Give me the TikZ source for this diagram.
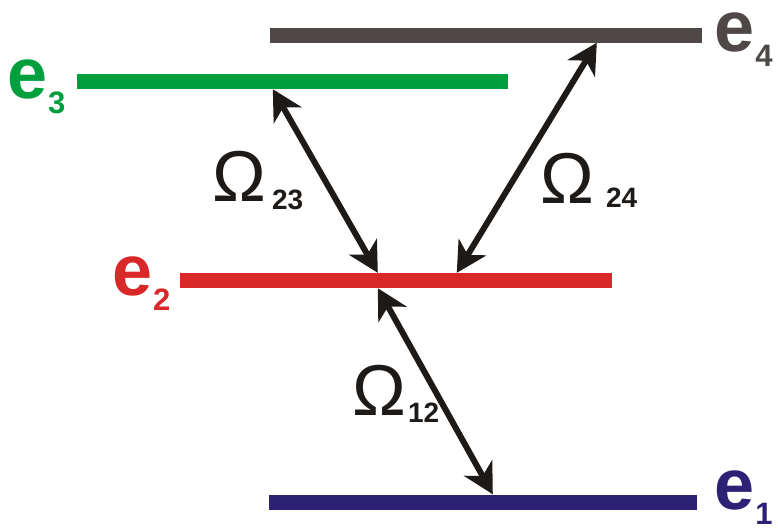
\documentclass[tikz,border=0pt]{standalone}
\usepackage{fontspec}
\setmainfont{Liberation Sans}
\usetikzlibrary{arrows.meta}
\definecolor{levelGray}{HTML}{4E4947}
\definecolor{levelGreen}{HTML}{009F3D}
\definecolor{levelRed}{HTML}{D92828}
\definecolor{levelNavy}{HTML}{2D2175}
\definecolor{arrowBlack}{HTML}{1E1A17}
\newcommand{\elab}[1]{\fontsize{72}{72}\selectfont\bfseries e\hspace{1pt}\lower15pt\hbox{\fontsize{31}{31}\selectfont\bfseries #1}}
\newcommand{\omlab}[3]{\fontsize{72}{72}\selectfont Ω\hspace{#1}\lower#2\hbox{\fontsize{28}{28}\selectfont\bfseries #3}}

\begin{document}
\begin{tikzpicture}[x=1pt, y=-1pt,
    level/.style={fill, inner sep=0pt, minimum height=15pt},
    elabel/.style={inner sep=0pt, anchor=base west},
    omega/.style={inner sep=0pt, anchor=base west, text=arrowBlack},
    arr/.style={{Stealth[length=30pt, width=32pt, inset=9pt]}-{Stealth[length=30pt, width=32pt, inset=9pt]},
      line width=6pt, arrowBlack}]
    \useasboundingbox (0,0) rectangle (778,531);
    % energy levels
    \node[level, levelGray, minimum width=432pt] (l4) at (486,35) {};
    \node[level, levelGreen, minimum width=431pt] (l3) at (292.5,81.5) {};
    \node[level, levelRed, minimum width=432pt] (l2) at (396,280.5) {};
    \node[level, levelNavy, minimum width=428pt] (l1) at (483,502) {};
    \node[elabel, text=levelGray] (e4) at (714,51) {\elab{4}};
    \node[elabel, text=levelGreen] (e3) at (7,98) {\elab{3}};
    \node[elabel, text=levelRed] (e2) at (112,295) {\elab{2}};
    \node[elabel, text=levelNavy] (e1) at (714,509) {\elab{1}};
    % couplings
    \draw[arr] ([xshift=196pt]l3.south west) -- ([xshift=198pt]l2.north west);
    \draw[arr] ([xshift=327pt]l4.south west) -- ([xshift=277pt]l2.north west);
    \draw[arr] ([xshift=198pt]l2.south west) -- ([xshift=224pt]l1.north west);
    \node[omega] (o23) at (212,201) {\omlab{6pt}{8pt}{23}};
    \node[omega] (o24) at (540,203) {\omlab{12pt}{4pt}{24}};
    \node[omega] (o12) at (352,415) {\omlab{2pt}{7pt}{12}};
\end{tikzpicture}
\end{document}
